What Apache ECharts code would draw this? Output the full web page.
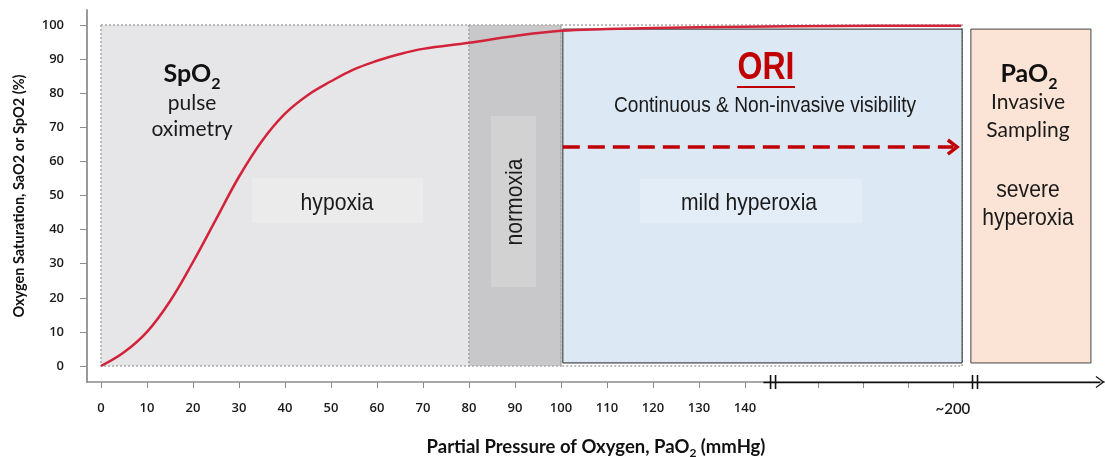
<!DOCTYPE html>
<html>
<head>
<meta charset="UTF-8">
<title>Oxygen dissociation curve</title>
<style>
  html, body { margin: 0; padding: 0; background: #fff; }
  #myChart { width: 1105px; height: 457px; }
</style>
<script src="https://cdn.jsdelivr.net/npm/echarts@6/dist/echarts.min.js"></script>
</head>
<body>
<div id="myChart"></div>
<script>
// dissociation curve
const pao2 = [0, 5, 10, 15, 20, 25, 30, 35, 40, 45, 50, 55, 60, 65, 70, 80, 90, 100, 110, 120, 140, 160, 187];
const sat = [0, 4, 10, 19, 30.5, 43, 55.5, 66, 74, 79.5, 83.5, 87, 89.5, 91.5, 93, 94.8, 96.8, 98.3, 98.8, 99.1, 99.5, 99.7, 99.8];

// zones along PaO2
const zoneNames = ['hypoxia', 'normoxia', 'mild hyperoxia', 'severe hyperoxia'];
const zoneFrom = [0, 80, 100.4, 189.1];
const zoneTo = [80, 100, 187.2, 215.2];
const zoneLow = [0, 0, 0.9, 0.9];
const zoneHigh = [100, 100, 98.8, 98.8];

// ORI arrow: from, to, level (%)
const oriArrow = [100.4, 185.3, 64.2];

// ticks
const xTicks = [0, 10, 20, 30, 40, 50, 60, 70, 80, 90, 100, 110, 120, 130, 140];
const xTicksAfterBreak = [156, 165.8, 175.5, 185.2];
const approxTick = 185.2;
const approxLabel = '~200';
const yTicks = [0, 10, 20, 30, 40, 50, 60, 70, 80, 90, 100];
const breaks = [146.1, 190];

const xMin = -3.04, xMax = 218.26;
const yMin = -4.69, yMax = 104.4;

const zoneStyles = [
  { fill: '#e6e6e8', stroke: '#a8a8a8', lineWidth: 1.5, lineDash: [2, 2] },
  { fill: '#c8c8ca', stroke: '#a8a8a8', lineWidth: 1.5, lineDash: [2, 2] },
  { fill: '#dce8f4', stroke: '#222222', lineWidth: 1, lineDash: null },
  { fill: '#fbe4d6', stroke: '#444444', lineWidth: 1, lineDash: null }
];

const chevron = 'path://M7,0 L14,11 L11.6,13 L7,5.6 L2.4,13 L0,11 Z';
const thinChevron = 'path://M6,0 L12,9 L11,9.7 L6,2.2 L1,9.7 L0,9 Z';

const narrow = 'Liberation Sans';
const calib = 'Lato';

function txt(x, y, text, size, opts) {
  opts = opts || {};
  return {
    type: 'text', x: x, y: y,
    rotation: opts.rotation || 0,
    scaleX: opts.scaleX || 1,
    z: 20,
    style: {
      text: text,
      fontFamily: opts.family || narrow,
      fontSize: size,
      fontWeight: opts.weight || 'normal',
      fill: opts.color || '#1a1a1a',
      align: 'center',
      verticalAlign: 'middle',
      rich: opts.rich
    }
  };
}
function box(x, y, w, h, color) {
  return { type: 'rect', z: 15, shape: { x: x, y: y, width: w, height: h }, style: { fill: color } };
}
const subRich = function (size) {
  return {
    m: { fontFamily: calib, fontWeight: 'bold', fontSize: size, fill: '#111' },
    s: { fontFamily: calib, fontWeight: 'bold', fontSize: 16, fill: '#111', padding: [20, 0, 0, 0] }
  };
};

let myEcharts = echarts.init(document.querySelector('#myChart'));

let option = {
  animation: false,
  grid: { left: 87, right: 0, top: 10, bottom: 75, containLabel: false, outerBoundsMode: 'none' },
  xAxis: {
    type: 'value', min: xMin, max: xMax,
    splitLine: { show: false },
    axisLine: { onZero: false, lineStyle: { color: '#8c8c8c', width: 1.5 } },
    axisTick: { show: true, customValues: xTicks.concat(xTicksAfterBreak), length: 6, lineStyle: { color: '#8c8c8c', width: 1 } },
    axisLabel: {
      customValues: xTicks.concat([approxTick]), margin: 20,
      fontFamily: 'Open Sans', fontWeight: 600, fontSize: 13, color: '#1a1a1a',
      formatter: v => v === approxTick ? '{a|' + approxLabel + '}' : String(v),
      rich: { a: { fontFamily: calib, fontSize: 15, color: '#1a1a1a' } }
    },
    name: '{b|Partial Pressure of Oxygen, PaO}{s|2}{b| (mmHg)}',
    nameLocation: 'middle', nameGap: 54,
    nameTextStyle: {
      rich: {
        b: { fontFamily: calib, fontWeight: 'bold', fontSize: 18.5, color: '#111' },
        s: { fontFamily: calib, fontWeight: 'bold', fontSize: 12, color: '#111', padding: [11, 0, 0, 0] }
      }
    }
  },
  yAxis: {
    type: 'value', min: yMin, max: yMax,
    splitLine: { show: false },
    axisLine: { show: true, onZero: false, lineStyle: { color: '#9a9a9a', width: 2 } },
    axisTick: { show: true, customValues: yTicks, length: 7, lineStyle: { color: '#8c8c8c', width: 1 } },
    axisLabel: { customValues: yTicks, margin: 23, fontFamily: 'Open Sans', fontWeight: 600, fontSize: 13, color: '#1a1a1a' },
    name: 'Oxygen Saturation, SaO2 or SpO2 (%)',
    nameLocation: 'middle', nameGap: 60, nameRotate: 90,
    nameTextStyle: { fontFamily: calib, fontWeight: 'bold', fontSize: 14.5, color: '#111' }
  },
  series: [
    {
      type: 'custom', name: 'zones', z: 1, silent: true, clip: false,
      encode: { x: [0, 1], y: [2, 3] },
      data: zoneNames.map((n, i) => [zoneFrom[i], zoneTo[i], zoneLow[i], zoneHigh[i]]),
      renderItem: function (params, api) {
        const i = params.dataIndex;
        const st = zoneStyles[i];
        const p0 = api.coord([api.value(0), api.value(3)]);
        const p1 = api.coord([api.value(1), api.value(2)]);
        const rect = {
          type: 'rect',
          shape: { x: p0[0], y: p0[1], width: p1[0] - p0[0], height: p1[1] - p0[1] },
          style: { fill: st.fill, stroke: st.stroke, lineWidth: st.lineWidth, lineDash: st.lineDash }
        };
        if (i !== 2) return rect;
        // dotted frame continues under the ORI box
        const q0 = api.coord([zoneTo[1], 100]);
        const q1 = api.coord([api.value(1), 0]);
        return {
          type: 'group',
          children: [
            { type: 'rect', shape: { x: q0[0], y: q0[1], width: q1[0] - q0[0], height: q1[1] - q0[1] },
              style: { fill: null, stroke: '#a8a8a8', lineWidth: 1.5, lineDash: [2, 2] } },
            rect
          ]
        };
      },
      markLine: {
        silent: true, animation: false,
        label: { show: false },
        emphasis: { disabled: true },
        data: [
          [
            { coord: [oriArrow[0], oriArrow[2]], symbol: 'none', lineStyle: { color: '#c00000', width: 3.5, type: [17, 8] } },
            { coord: [oriArrow[1], oriArrow[2]], symbol: chevron, symbolSize: [17, 13] }
          ],
          [
            { coord: [144, yMin], symbol: 'none', lineStyle: { color: '#111', width: 1.3, type: 'solid' } },
            { coord: [217.2, yMin], symbol: thinChevron, symbolSize: [12, 9] }
          ]
        ]
      }
    },
    {
      type: 'line', name: 'saturation', z: 4, silent: true,
      data: pao2.map((p, i) => [p, sat[i]]),
      smooth: 0.4, symbol: 'none',
      lineStyle: { color: '#d2233a', width: 2.5 }
    },
    {
      type: 'custom', name: 'breaks', z: 6, silent: true, clip: false,
      encode: { x: 0, y: 1 },
      data: breaks.map(b => [b, yMin]),
      renderItem: function (params, api) {
        const p = api.coord([api.value(0), api.value(1)]);
        return {
          type: 'group',
          children: [-2.5, 2.5].map(dx => ({
            type: 'line',
            shape: { x1: p[0] + dx, y1: p[1] - 7, x2: p[0] + dx, y2: p[1] + 7 },
            style: { stroke: '#111', lineWidth: 1.6 }
          }))
        };
      }
    }
  ],
  graphic: [
    // SpO2 block
    txt(192, 74, '{m|SpO}{s|2}', 25, { rich: subRich(25) }),
    txt(192, 103, 'pulse', 21, { family: calib }),
    txt(192, 129, 'oximetry', 21, { family: calib }),
    // zone labels
    box(252, 178, 171, 45, '#ebebec'),
    txt(337, 203, 'hypoxia', 24, { scaleX: 0.88 }),
    box(491, 116, 45, 171, '#d2d2d3'),
    txt(515, 202, 'normoxia', 24, { scaleX: 0.88, rotation: Math.PI / 2 }),
    box(640, 179, 222, 44, '#e3edf7'),
    txt(749, 203, 'mild hyperoxia', 24, { scaleX: 0.88 }),
    // ORI
    txt(766, 68, 'ORI', 39, { weight: 'bold', color: '#c00000', scaleX: 0.82 }),
    box(737, 86, 58, 2, '#c00000'),
    txt(765, 106, 'Continuous & Non-invasive visibility', 22, { scaleX: 0.87 }),
    // PaO2 block
    txt(1029, 74, '{m|PaO}{s|2}', 25, { rich: subRich(25) }),
    txt(1028, 102, 'Invasive', 21, { family: calib }),
    txt(1028, 130, 'Sampling', 21, { family: calib }),
    txt(1028, 190, 'severe', 24, { scaleX: 0.88 }),
    txt(1028, 218, 'hyperoxia', 24, { scaleX: 0.88 })
  ]
};
myEcharts.setOption(option, true);
</script>
</body>
</html>
